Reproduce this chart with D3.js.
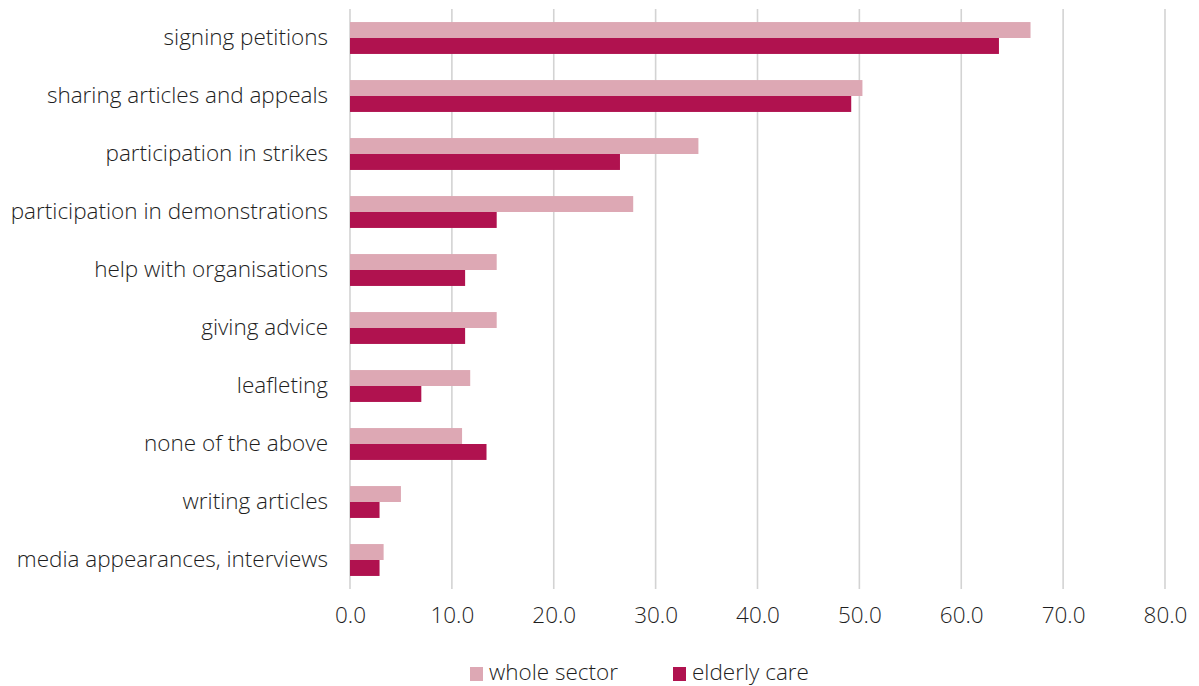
<!DOCTYPE html>
<html>
<head>
<meta charset="utf-8">
<script src="https://cdn.jsdelivr.net/npm/d3@7"></script>
<style>
  body { margin: 0; background: #fff; }
  svg { display: block; }
  svg text { font-family: "Open Sans", "Noto Sans", sans-serif; font-weight: 300; }
</style>
</head>
<body>
<svg id="chart" width="1199" height="686"></svg>
<script>
// Forms of activism, share of respondents (%)
const categories = [
  "signing petitions",
  "sharing articles and appeals",
  "participation in strikes",
  "participation in demonstrations",
  "help with organisations",
  "giving advice",
  "leafleting",
  "none of the above",
  "writing articles",
  "media appearances, interviews"
];
const wholeSector = [66.8, 50.3, 34.2, 27.8, 14.4, 14.4, 11.8, 11.0, 5.0, 3.3];
const elderlyCare = [63.7, 49.2, 26.5, 14.4, 11.3, 11.3, 7.0, 13.4, 2.9, 2.9];
const seriesNames = ["whole sector", "elderly care"];
const seriesColors = ["#dda8b4", "#b0124f"];
const xTicks = [0, 10, 20, 30, 40, 50, 60, 70, 80];

const svg = d3.select("#chart");
const W = 1199, H = 686;
const plotTop = 9, plotBottom = 589, plotLeft = 350;
const textColor = "#1e1e1e";

const x = d3.scaleLinear().domain([0, 80]).range([plotLeft, 1165]);
const y = d3.scaleBand().domain(categories).range([plotTop, plotBottom]).paddingInner(0.45).paddingOuter(0.225);
const sub = d3.scaleBand().domain(seriesNames).range([0, y.bandwidth()]);

// vertical gridlines
svg.append("g").selectAll("line").data(xTicks).join("line")
  .attr("x1", d => x(d)).attr("x2", d => x(d))
  .attr("y1", plotTop).attr("y2", plotBottom)
  .attr("stroke", "#d3d3d3").attr("stroke-width", 1.6);

// x axis tick labels
const xAxis = d3.axisBottom(x).tickValues(xTicks).tickFormat(d3.format(".1f")).tickSize(0).tickPadding(0);
const gx = svg.append("g").attr("transform", "translate(0,607)").call(xAxis)
  .attr("font-family", "Open Sans").attr("font-size", 22.5);
gx.select(".domain").remove();
gx.selectAll("text").attr("fill", textColor).attr("dy", "0.71em");

// category labels
const yAxis = d3.axisLeft(y).tickSize(0).tickPadding(22);
const gy = svg.append("g").attr("transform", `translate(${plotLeft},0)`).call(yAxis)
  .attr("font-family", "Open Sans").attr("font-size", 22.5);
gy.select(".domain").remove();
gy.selectAll("text").attr("fill", textColor);

// bars
const rows = categories.map((c, i) => ({ c, vals: [wholeSector[i], elderlyCare[i]] }));
const groups = svg.append("g").selectAll("g").data(rows).join("g")
  .attr("transform", d => `translate(0,${y(d.c)})`);
groups.selectAll("rect").data(d => d.vals.map((v, j) => ({ v, j }))).join("rect")
  .attr("x", x(0))
  .attr("y", d => sub(seriesNames[d.j]))
  .attr("width", d => x(d.v) - x(0))
  .attr("height", sub.bandwidth())
  .attr("fill", d => seriesColors[d.j]);

// legend
const legendItems = [{ name: seriesNames[0], color: seriesColors[0], x: 470 }, { name: seriesNames[1], color: seriesColors[1], x: 673 }];
const lg = svg.append("g").selectAll("g").data(legendItems).join("g")
  .attr("transform", d => `translate(${d.x},667)`);
lg.append("rect").attr("width", 13).attr("height", 14).attr("fill", d => d.color);
lg.append("text").attr("x", 19).attr("y", 13).attr("font-size", 22.5).attr("fill", textColor).text(d => d.name);
</script>
</body>
</html>
